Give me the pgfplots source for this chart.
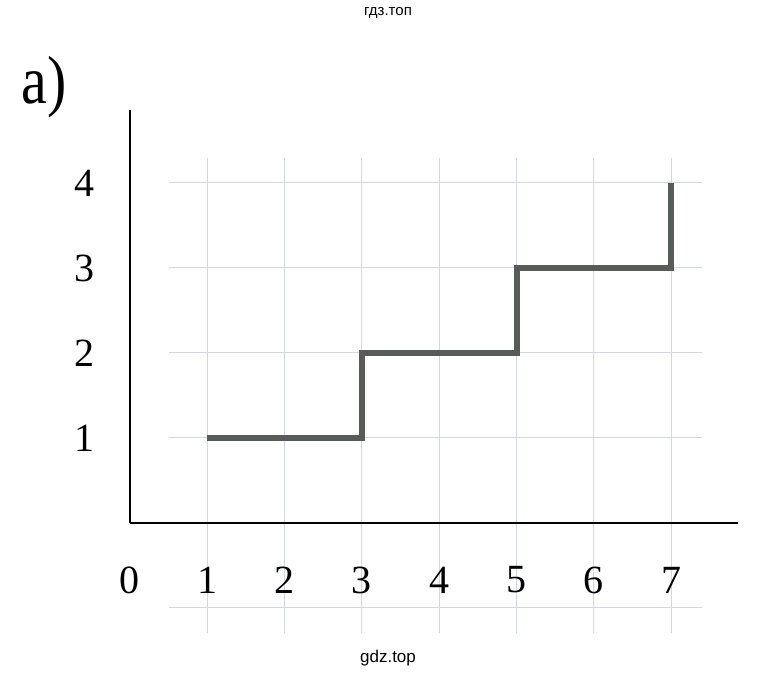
\documentclass[border=0pt]{standalone}
\usepackage{pgfplots}
\pgfplotsset{compat=1.18}
\usepackage{graphicx}
\usepackage{fontspec}
\setmainfont{Liberation Serif}
\newfontfamily\sansf{Liberation Sans}
\definecolor{gridc}{RGB}{210,215,226}
\definecolor{stepc}{RGB}{88,92,88}
\begin{document}
\begin{tikzpicture}[x=1pt,y=1pt]
\useasboundingbox (0,0) rectangle (777,677);
\fill[white] (0,0) rectangle (777,677);
\node[font=\sansf\fontsize{15}{15}\selectfont] at (388,664) {гдз.топ};
\node[font=\sansf\fontsize{17}{17}\selectfont] at (388,19) {gdz.top};
\node at (44,590) {\fontsize{68}{68}\selectfont\scalebox{0.85}[1.0]{а)}};
\begin{axis}[
  at={(130pt,154pt)}, anchor=origin,
  x=77.3pt, y=85pt,
  xmin=0, xmax=7.87, ymin=0, ymax=4.86,
  axis lines=left,
  axis on top,
  axis line style={-, line width=2.2pt, black},
  clip=false,
  xtick={0,...,7}, ytick={1,2,3,4},
  major tick length=0pt,
  /pgf/number format/assume math mode=true,
  tick label style={font=\fontsize{40}{40}\selectfont},
  xticklabel style={anchor=center, yshift=-57pt},
  yticklabel style={anchor=center, xshift=-46pt},
]
\pgfplotsinvokeforeach{1,...,7}{\draw[gridc, line width=1pt] (axis cs:#1,-1.3) -- (axis cs:#1,4.29);}
\pgfplotsinvokeforeach{-1,...,4}{\draw[gridc, line width=1pt] (axis cs:0.5,#1) -- (axis cs:7.4,#1);}
\addplot[stepc, line width=6pt, line join=miter] coordinates {(1,1)(3,1)(3,2)(5,2)(5,3)(7,3)(7,4)};
\end{axis}
\end{tikzpicture}
\end{document}
